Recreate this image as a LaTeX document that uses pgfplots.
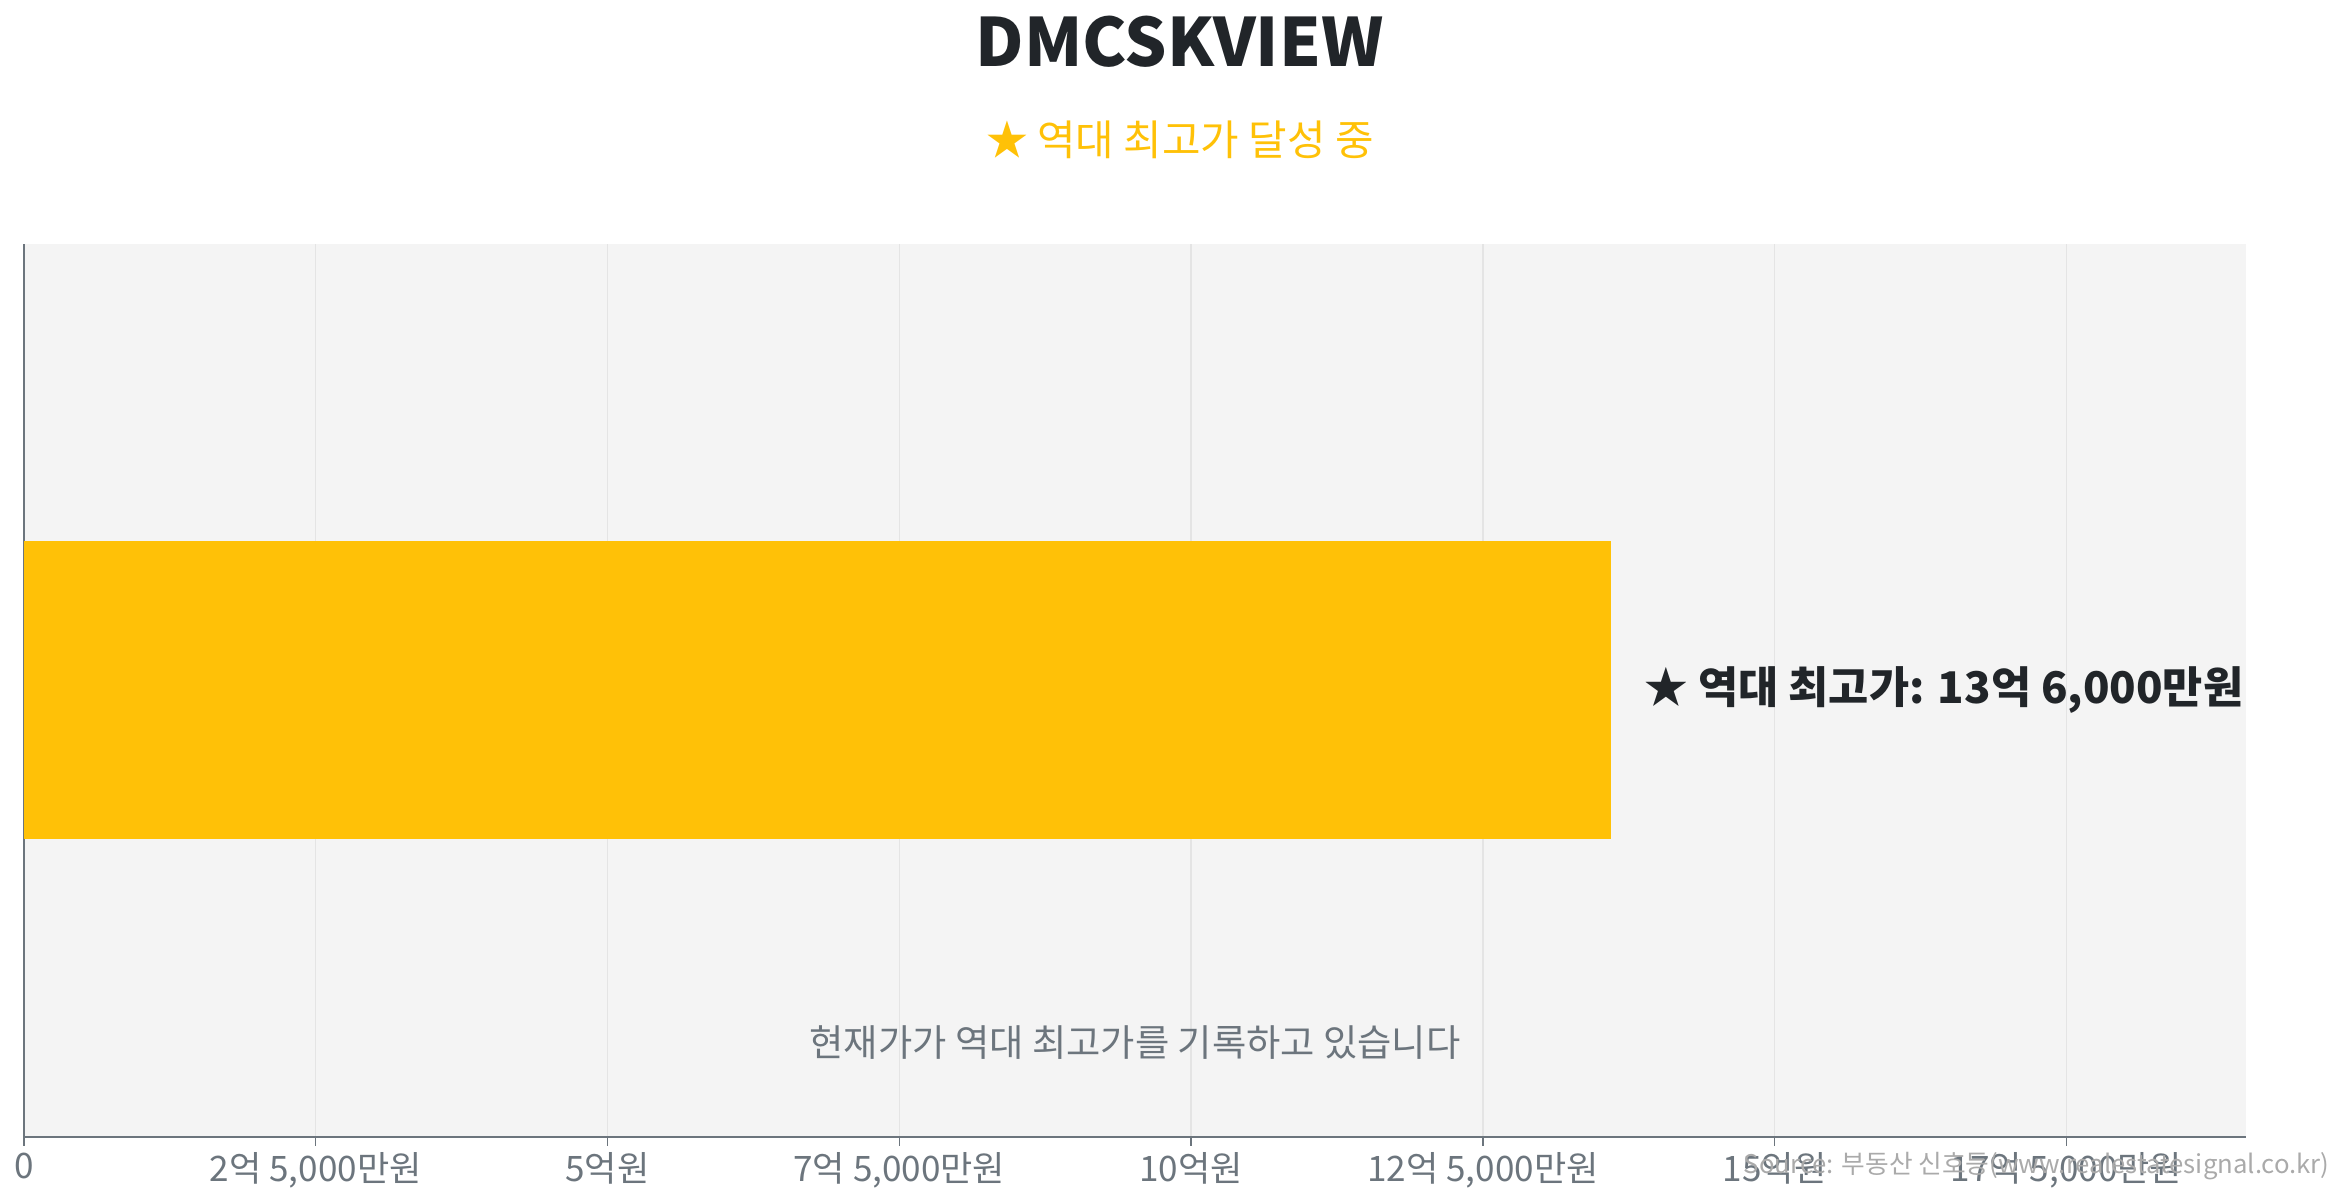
\documentclass[border=0pt]{standalone}
\usepackage{fontspec}
\setmainfont{Noto Sans CJK KR}
\usepackage{pgfplots}
\pgfplotsset{compat=1.18}
\definecolor{titlec}{HTML}{212529}
\definecolor{gold}{HTML}{FFC107}
\definecolor{tickc}{HTML}{6C757D}
\definecolor{gridc}{HTML}{E4E4E4}
\definecolor{bgc}{HTML}{F4F4F4}
\definecolor{srcc}{HTML}{AAAAAA}
\begin{document}
\begin{tikzpicture}
\useasboundingbox (0,0) rectangle (1176pt,600pt);
% title and subtitle
\node[font=\fontsize{33.4}{33.4}\selectfont\bfseries, text=titlec] at (591.5pt,579pt) {DMCSKVIEW};
\node[font=\fontsize{21}{21}\selectfont, text=gold] at (591.75pt,530pt) {★ 역대 최고가 달성 중};
\begin{axis}[
  at={(12pt,30pt)}, anchor=south west,
  scale only axis, width=1114.5pt, height=447.75pt,
  xbar, bar width=149.25pt,
  xmin=0, xmax=19.04, ymin=-1.5, ymax=1.5,
  ytick=\empty,
  xtick={0,2.5,5,7.5,10,12.5,15,17.5},
  xticklabels={0,{2억 5,000만원},{5억원},{7억 5,000만원},{10억원},{12억 5,000만원},{15억원},{17억 5,000만원}},
  axis background/.style={fill=bgc},
  axis lines*=left,
  axis line style={-, draw=tickc, line width=1pt},
  tick align=outside, major tick length=4.5pt,
  x tick style={draw=tickc, line width=0.75pt},
  xmajorgrids, grid style={draw=gridc, line width=0.75pt},
  tick label style={font=\fontsize{17.6}{17.6}\selectfont, text=tickc},
  nodes near coords={★ 역대 최고가: 13억 6,000만원},
  every node near coord/.append style={anchor=west, inner sep=0pt, xshift=16.5pt,
    font=\fontsize{21.9}{21.9}\selectfont\bfseries, text=titlec},
]
\addplot[fill=gold, draw=none] coordinates {(13.6,0)};
\node[font=\fontsize{18.7}{18.7}\selectfont, text=tickc] at (rel axis cs:0.5,0.1055) {현재가가 역대 최고가를 기록하고 있습니다};
\end{axis}
\node[anchor=east, font=\fontsize{12.9}{12.9}\selectfont, text=srcc, inner sep=0pt] at (1168.5pt,15pt) {Source: 부동산 신호등(www.realestatesignal.co.kr)};
\end{tikzpicture}
\end{document}
